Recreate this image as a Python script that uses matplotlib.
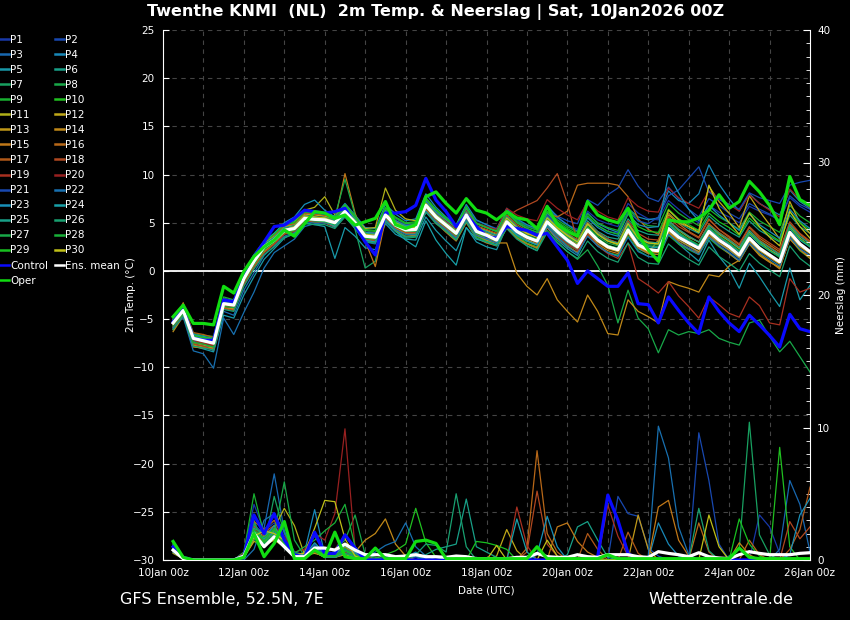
import numpy as np
import matplotlib
matplotlib.use('Agg')
import matplotlib.pyplot as plt
from matplotlib.lines import Line2D

# 6-hourly forecast steps, 10Jan 06z .. 26Jan 00z
steps = np.arange(1, 65)
hours = steps * 6

tick_hours = list(range(0, 385, 48))
tick_labels = ['10Jan 00z', '12Jan 00z', '14Jan 00z', '16Jan 00z', '18Jan 00z',
               '20Jan 00z', '22Jan 00z', '24Jan 00z', '26Jan 00z']

# --- 2m temperature (deg C) ---
ens_mean_t = [-5.4, -4.1, -7.0, -7.25, -7.5, -3.4, -3.55, -0.8, 1.0, 2.5, 3.2, 4.2, 4.4, 5.45, 5.35, 5.3,
              5.0, 6.15, 5.0, 3.6, 3.5, 5.8, 4.75, 4.25, 4.3, 6.8, 5.6, 4.75, 3.9, 5.8, 4.1, 3.7,
              3.2, 5.1, 4.1, 3.5, 3.1, 5.1, 4.1, 3.2, 2.5, 4.25, 3.2, 2.5, 2.2, 4.25, 2.7, 2.2,
              2.1, 4.4, 3.5, 2.9, 2.35, 4.1, 3.2, 2.5, 1.65, 3.4, 2.35, 1.65, 0.95, 4.0, 2.8, 2.0]
control_t = [-5.3, -3.9, -7.0, -7.2, -7.2, -3.0, -3.2, -0.5, 1.5, 3.0, 4.6, 4.75, 5.45, 6.3, 6.15, 6.0,
             6.15, 6.5, 4.75, 3.0, 1.65, 6.0, 6.0, 6.15, 6.8, 9.6, 7.35, 6.15, 4.6, 5.8, 4.6, 3.6,
             3.4, 4.6, 4.4, 4.2, 3.7, 3.9, 2.5, 1.1, -1.3, 0.0, -0.8, -1.6, -1.6, -0.2, -3.4, -3.5,
             -5.4, -2.7, -4.1, -5.4, -6.5, -2.7, -4.2, -5.4, -6.3, -4.6, -5.6, -6.7, -7.9, -4.5, -6.0, -6.3]
oper_t = [-4.75, -3.55, -5.45, -5.45, -5.6, -1.6, -2.3, -0.05, 1.5, 2.5, 3.2, 4.25, 3.6, 4.9, 6.15, 6.0,
          5.45, 5.8, 4.75, 5.1, 5.45, 7.2, 4.8, 4.4, 4.8, 7.7, 8.2, 7.0, 6.0, 7.5, 6.3, 6.0,
          5.3, 6.15, 5.5, 5.3, 4.4, 6.7, 4.8, 4.1, 3.6, 7.2, 5.8, 5.3, 5.0, 6.5, 3.7, 2.2,
          1.0, 5.3, 5.1, 5.1, 5.5, 6.3, 7.9, 6.5, 7.2, 9.3, 8.2, 6.8, 4.8, 9.8, 7.4, 6.8]

temp_members = [
    # P1
    [-5.8, -4.4, -7.6, -7.8, -8.0, -3.9, -3.8, -1.3, 0.6, 2.2, 3.4, 4.6, 5.0, 6.0, 5.9, 5.6,
     5.4, 6.7, 5.6, 4.2, 3.9, 6.5, 5.4, 4.8, 4.9, 7.4, 6.2, 5.5, 4.7, 6.6, 5.2, 4.8,
     4.4, 6.3, 5.3, 4.7, 4.4, 6.5, 5.5, 4.8, 4.3, 6.2, 5.3, 4.9, 4.6, 7.0, 6.0, 5.4,
     5.3, 7.3, 6.4, 5.6, 5.0, 6.8, 6.1, 5.6, 5.0, 6.7, 6.2, 5.8, 5.3, 7.6, 6.7, 6.1],
    # P2
    [-5.1, -3.8, -6.6, -6.9, -7.2, -3.0, -3.2, -0.3, 1.5, 3.0, 3.8, 4.4, 4.9, 5.8, 5.6, 5.5,
     5.1, 6.4, 5.2, 3.9, 3.9, 6.2, 5.0, 4.6, 4.5, 7.1, 5.9, 5.0, 4.4, 6.4, 4.9, 4.5,
     4.1, 6.2, 5.1, 4.6, 4.3, 6.6, 5.7, 5.2, 4.9, 7.4, 6.8, 7.9, 8.6, 10.5, 8.8, 7.6,
     7.2, 8.7, 7.5, 6.4, 5.6, 7.5, 6.8, 6.0, 5.4, 7.0, 6.4, 5.9, 5.2, 7.8, 6.9, 6.4],
    # P3
    [-5.6, -4.2, -7.3, -7.6, -8.3, -4.2, -4.6, -2.0, -0.2, 1.6, 2.6, 3.6, 4.0, 5.1, 5.0, 5.0,
     4.5, 5.7, 4.4, 3.0, 2.8, 5.1, 4.1, 3.5, 3.6, 6.1, 5.1, 4.3, 3.4, 5.3, 3.8, 3.2,
     3.0, 4.9, 3.9, 3.2, 2.8, 4.8, 3.6, 2.7, 2.2, 3.9, 3.0, 2.4, 2.0, 4.0, 2.9, 2.3,
     2.1, 4.2, 3.2, 2.5, 1.9, 3.6, 2.8, 2.1, 1.3, 3.0, 2.1, 1.5, 0.8, 3.6, 2.6, 1.9],
    # P4
    [-5.2, -3.9, -6.8, -7.0, -7.1, -3.1, -3.3, -0.6, 1.2, 2.8, 3.6, 4.8, 5.2, 6.3, 6.0, 5.9,
     5.7, 7.0, 5.8, 4.5, 4.4, 6.9, 5.9, 5.2, 5.4, 8.0, 6.6, 5.6, 4.8, 6.9, 5.3, 4.8,
     4.3, 6.5, 5.4, 4.8, 4.4, 6.8, 5.6, 4.8, 4.1, 6.0, 4.9, 4.4, 4.0, 6.5, 5.6, 5.3,
     5.5, 8.3, 7.3, 7.0, 8.0, 11.0, 9.0, 7.5, 6.2, 8.0, 7.0, 6.4, 5.8, 8.4, 7.2, 6.5],
    # P5
    [-6.0, -4.5, -7.8, -8.1, -8.4, -4.6, -4.9, -2.5, -0.6, 1.2, 2.3, 3.4, 3.9, 5.0, 4.8, 4.6,
     1.3, 4.5, 3.6, 2.4, 2.2, 4.9, 3.8, 3.3, 3.2, 5.6, 4.2, 3.1, 2.1, 4.5, 3.0, 2.5,
     2.2, 4.6, 3.5, 2.6, 2.1, 4.5, 3.2, 2.3, 1.6, 3.8, 2.6, 1.9, 1.6, 3.9, 2.3, 1.8,
     1.7, 4.0, 2.8, 1.9, 1.0, 3.2, 1.5, 0.2, -1.8, 0.8, -0.6, -2.2, -3.7, 0.3, -3.0, -1.5],
    # P6
    [-5.3, -4.0, -6.9, -7.1, -7.3, -3.2, -3.6, -0.9, 0.9, 2.3, 3.0, 4.0, 4.3, 5.3, 5.2, 5.1,
     4.8, 6.0, 4.7, 3.3, 3.1, 5.5, 4.5, 4.0, 4.1, 6.6, 5.3, 4.5, 3.7, 5.6, 4.0, 3.6,
     3.3, 5.4, 4.3, 3.7, 3.3, 5.6, 4.6, 3.8, 3.2, 5.2, 4.1, 3.5, 3.3, 5.4, 4.2, 3.8,
     3.7, 6.0, 5.0, 4.4, 3.9, 5.7, 4.8, 4.1, 3.5, 5.2, 4.2, 3.6, 3.0, 5.8, 4.6, 3.9],
    # P7
    [-5.5, -4.3, -7.2, -7.4, -7.6, -3.5, -3.4, -0.5, 1.3, 2.7, 3.4, 4.3, 4.5, 5.6, 5.5, 5.6,
     5.2, 6.8, 4.3, 0.3, 1.0, 5.6, 4.2, 3.4, 3.5, 6.2, 5.0, 4.1, 3.2, 5.4, 3.6, 3.1,
     2.9, 5.0, 3.9, 3.1, 2.8, 5.0, 3.8, 2.9, 2.3, 4.4, 3.3, 2.6, 2.4, 4.6, 3.2, 2.6,
     2.5, 4.9, 3.9, 3.2, 2.6, 4.5, 3.6, 2.8, 2.0, 3.9, 2.8, 2.1, 1.5, 4.6, 3.3, 2.5],
    # P8
    [-5.4, -4.1, -7.1, -7.3, -7.4, -3.3, -3.5, -0.7, 1.1, 2.6, 3.3, 4.1, 4.4, 5.4, 5.3, 5.4,
     5.0, 6.0, 4.9, 3.5, 3.4, 5.6, 4.6, 4.1, 4.2, 6.5, 5.4, 4.6, 3.7, 5.5, 3.9, 3.4,
     3.0, 4.8, 3.6, 2.8, 2.3, 4.2, 3.0, 2.0, 1.2, 2.2, 0.5, -1.5, -5.4, -2.0, -4.9, -6.0,
     -8.5, -6.1, -6.65, -6.3, -6.5, -6.1, -7.0, -7.4, -7.7, -5.4, -5.1, -6.8, -8.4, -7.3, -8.9, -10.5],
    # P9
    [-5.0, -3.6, -6.5, -6.7, -6.8, -2.7, -3.0, -0.2, 1.7, 3.1, 3.9, 4.9, 5.1, 6.2, 6.1, 6.0,
     5.6, 6.9, 5.7, 4.3, 4.2, 6.6, 5.6, 5.0, 5.1, 7.6, 6.4, 5.5, 4.6, 6.7, 5.0, 4.6,
     4.2, 6.2, 5.2, 4.6, 4.2, 6.2, 5.3, 4.6, 4.0, 5.9, 5.0, 4.5, 4.2, 6.6, 5.2, 4.7,
     4.6, 7.0, 6.0, 5.3, 4.7, 6.4, 5.6, 5.0, 4.3, 6.1, 5.2, 4.6, 4.0, 6.8, 5.7, 5.0],
    # P10
    [-5.7, -4.5, -7.5, -7.7, -7.9, -3.8, -3.9, -1.1, 0.7, 2.1, 2.9, 3.9, 4.2, 5.2, 5.1, 5.0,
     4.7, 5.8, 4.6, 3.2, 3.0, 5.4, 4.3, 3.8, 3.8, 6.3, 5.0, 4.2, 3.3, 5.2, 3.6, 3.1,
     2.7, 4.6, 3.6, 2.9, 2.5, 4.6, 3.5, 2.6, 1.9, 3.7, 2.6, 1.9, 1.6, 3.6, 2.1, 1.5,
     1.4, 3.7, 2.8, 2.2, 1.7, 3.4, 2.5, 1.8, 1.0, 2.8, 1.7, 1.0, 0.3, 3.4, 2.1, 1.3],
    # P11
    [-5.9, -4.3, -7.4, -7.7, -7.8, -3.6, -3.7, -1.0, 0.8, 2.4, 3.3, 4.5, 5.0, 6.3, 6.6, 7.7,
     5.8, 6.6, 5.5, 4.4, 4.5, 8.6, 6.3, 5.4, 5.2, 7.2, 6.0, 5.1, 4.2, 6.2, 4.6, 4.1,
     3.6, 5.5, 4.5, 3.9, 3.6, 5.6, 4.5, 3.6, 3.0, 4.8, 3.8, 3.1, 2.7, 4.9, 3.4, 2.9,
     2.8, 5.2, 4.2, 3.5, 3.0, 4.8, 3.8, 3.1, 2.3, 4.0, 3.0, 2.2, 1.6, 4.6, 3.4, 2.6],
    # P12
    [-5.2, -3.7, -6.7, -7.0, -7.1, -3.0, -3.2, -0.4, 1.4, 2.9, 3.6, 4.6, 4.8, 5.9, 5.8, 5.7,
     5.3, 6.4, 5.2, 3.9, 3.8, 6.2, 5.2, 4.6, 4.6, 7.1, 5.9, 5.1, 4.3, 6.2, 4.6, 4.2,
     3.8, 5.7, 4.6, 3.9, 3.5, 5.5, 4.4, 3.5, 2.8, 4.4, 3.3, 2.6, 2.2, 4.1, 2.6, 1.9,
     3.2, 5.8, 5.0, 4.6, 4.2, 8.8, 7.2, 6.0, 4.5, 7.8, 6.2, 4.8, 3.3, 7.2, 5.0, 3.9],
    # P13
    [-6.1, -4.6, -7.7, -7.9, -8.0, -3.8, -3.9, -1.2, 0.5, 2.0, 2.9, 4.0, 4.3, 5.4, 5.3, 5.2,
     4.6, 5.9, 4.8, 3.4, 3.3, 5.6, 4.5, 4.0, 4.0, 6.5, 5.3, 4.4, 3.6, 5.5, 3.8, 3.3,
     2.9, 4.9, 3.8, 3.2, 2.8, 4.9, 3.9, 3.0, 2.3, 4.1, 3.0, 2.3, 2.0, 4.0, 2.5, 2.0,
     1.9, 4.1, 3.2, 2.6, 2.0, 3.8, 2.9, 2.2, 1.4, 3.1, 2.1, 1.4, 0.7, 3.7, 2.5, 1.8],
    # P14
    [-6.3, -4.7, -7.9, -8.0, -8.1, -3.9, -4.0, -1.3, 0.4, 1.9, 2.8, 3.9, 4.2, 5.3, 5.2, 5.1,
     4.6, 5.8, 4.7, 3.3, 3.3, 5.4, 4.4, 3.9, 3.9, 6.4, 5.2, 4.3, 3.5, 5.3, 3.7, 3.2,
     2.9, 2.9, -0.25, -1.6, -2.5, -0.8, -3.0, -4.2, -5.3, -2.5, -4.2, -6.5, -6.65, -3.0, -4.2, -4.75,
     -5.4, -1.1, -1.5, -1.8, -2.2, -0.4, -0.6, 0.5, 1.1, 2.8, 1.6, 0.9, 0.4, 3.3, 2.2, 1.5],
    # P15
    [-5.6, -3.3, -6.9, -7.3, -7.5, -3.5, -3.7, -1.0, 0.9, 2.4, 3.1, 4.1, 4.4, 5.5, 5.4, 5.4,
     5.2, 10.1, 6.0, 3.1, 0.45, 5.3, 4.2, 3.6, 3.7, 6.2, 5.0, 4.0, 3.1, 5.0, 3.4, 2.9,
     2.6, 4.5, 3.4, 2.8, 2.4, 4.5, 3.4, 2.5, 1.9, 3.9, 2.8, 2.1, 1.8, 3.9, 2.4, 1.8,
     1.7, 4.0, 3.0, 2.3, 1.8, 3.6, 2.6, 1.8, 1.0, 2.9, 1.8, 1.0, 0.2, 3.4, 2.2, 1.3],
    # P16
    [-5.5, -4.0, -7.0, -7.3, -7.6, -3.5, -3.6, -0.9, 1.0, 2.5, 3.2, 4.2, 4.5, 5.5, 5.4, 5.3,
     4.9, 6.1, 4.9, 3.5, 3.4, 5.7, 4.7, 4.2, 4.2, 6.7, 5.5, 4.7, 3.8, 5.7, 4.0, 3.6,
     3.1, 5.0, 4.2, 3.8, 3.7, 6.0, 5.6, 6.2, 8.9, 9.1, 9.1, 9.1, 8.9, 7.7, 5.4, 4.3,
     3.8, 6.0, 4.9, 4.1, 3.5, 5.4, 4.3, 3.5, 2.7, 4.5, 3.4, 2.7, 2.0, 4.9, 3.8, 3.0],
    # P17
    [-5.0, -3.5, -6.4, -6.6, -6.9, -2.9, -3.1, -0.3, 1.6, 3.1, 3.7, 4.7, 4.9, 6.0, 5.9, 5.8,
     5.4, 6.6, 5.4, 4.0, 3.9, 6.3, 5.2, 4.7, 4.8, 7.3, 6.1, 5.2, 4.4, 6.3, 4.7, 4.3,
     3.9, 5.8, 4.8, 4.2, 3.8, 5.8, 4.8, 3.9, 3.2, 5.0, 3.9, 3.3, 2.9, 5.0, 3.6, 3.0,
     2.9, 5.3, 4.3, 3.6, 3.0, 4.9, 4.0, 3.3, 2.5, 4.2, 3.2, 2.5, 1.8, 4.8, 3.6, 2.9],
    # P18
    [-5.8, -4.6, -7.6, -7.8, -8.2, -3.9, -4.1, -1.4, 0.4, 1.9, 2.8, 3.8, 4.1, 5.2, 5.1, 5.0,
     4.6, 5.9, 4.7, 3.3, 3.1, 5.5, 4.5, 4.0, 4.0, 6.5, 5.3, 4.5, 3.6, 5.6, 3.9, 3.5,
     3.0, 5.6, 6.3, 6.8, 7.3, 8.6, 10.1, 7.0, 3.0, 5.0, 4.0, 3.3, 2.9, 5.2, 3.9, 3.3,
     3.2, 5.6, 4.6, 4.0, 3.4, 5.3, 4.3, 3.6, 2.8, 4.6, 3.6, 2.9, 2.2, 5.1, 3.9, 3.1],
    # P19
    [-5.4, -4.2, -7.2, -7.5, -7.7, -3.6, -3.7, -0.9, 0.9, 2.4, 3.1, 4.1, 4.3, 5.4, 5.3, 5.2,
     4.9, 6.2, 5.0, 3.6, 3.5, 5.8, 4.7, 4.2, 4.3, 6.8, 5.6, 4.7, 3.9, 5.8, 4.1, 3.7,
     3.3, 5.2, 4.1, 3.4, 2.9, 4.8, 3.7, 2.8, 2.1, 3.8, 2.6, 1.8, 1.3, 2.9, -0.8, -1.5,
     -2.3, -1.1, -2.6, -3.7, -4.9, -2.7, -3.5, -4.4, -4.8, -2.7, -3.6, -5.4, -5.6, -0.8, -2.2, -1.8],
    # P20
    [-5.6, -4.3, -7.4, -7.6, -7.8, -3.7, -3.8, -1.1, 0.8, 2.3, 3.0, 4.0, 4.3, 5.3, 5.2, 5.2,
     5.0, 6.3, 5.1, 3.7, 3.6, 6.0, 5.0, 4.5, 4.6, 7.1, 6.0, 5.2, 4.4, 6.4, 4.9, 4.6,
     4.3, 6.5, 5.8, 5.4, 5.2, 7.4, 6.5, 5.8, 5.3, 7.2, 6.2, 5.6, 5.3, 7.6, 6.7, 6.2,
     6.1, 8.6, 7.6, 7.0, 6.5, 8.3, 7.5, 6.9, 6.2, 7.9, 7.0, 6.3, 5.6, 8.5, 7.4, 6.6],
    # P21
    [-5.3, -3.9, -6.8, -7.1, -7.3, -3.2, -3.3, -0.6, 1.2, 2.7, 3.4, 4.4, 4.6, 5.7, 5.5, 5.4,
     5.2, 6.4, 5.2, 3.8, 3.7, 6.1, 5.0, 4.5, 4.5, 7.0, 5.8, 4.9, 4.1, 6.1, 4.4, 4.0,
     3.6, 5.6, 4.6, 4.0, 3.7, 5.8, 4.8, 4.1, 3.6, 5.6, 4.7, 4.1, 3.9, 6.2, 5.2, 4.9,
     5.6, 7.8, 8.4, 9.6, 10.8, 8.2, 7.4, 6.9, 6.4, 8.1, 7.6, 7.3, 7.0, 8.9, 9.2, 9.4],
    # P22
    [-5.9, -4.8, -8.3, -8.6, -10.1, -4.9, -6.6, -4.3, -2.2, 0.3, 1.9, 2.6, 3.3, 4.6, 4.9, 5.0,
     4.8, 5.6, 4.5, 3.1, 3.0, 5.3, 4.3, 3.8, 3.8, 6.2, 5.1, 4.3, 3.4, 5.3, 3.7, 3.3,
     2.9, 4.9, 3.8, 3.1, 2.7, 4.6, 3.5, 2.5, 1.8, 3.6, 2.6, 1.9, 1.5, 3.5, 2.0, 1.5,
     1.4, 3.8, 2.9, 2.3, 1.7, 3.5, 2.6, 1.9, 1.1, 2.9, 1.9, 1.2, 0.5, 3.5, 2.3, 1.6],
    # P23
    [-5.0, -3.7, -6.6, -6.8, -7.0, -2.9, -3.1, -0.4, 1.5, 3.0, 3.9, 5.0, 5.6, 6.9, 7.35, 6.3,
     5.6, 6.7, 5.4, 4.0, 3.9, 6.3, 5.2, 4.7, 4.8, 7.3, 6.1, 5.3, 4.5, 6.5, 4.9, 4.5,
     4.1, 6.1, 5.0, 4.4, 4.0, 6.0, 5.0, 4.2, 3.6, 5.5, 4.5, 3.9, 3.6, 5.9, 4.8, 4.5,
     4.6, 10.0, 8.1, 6.4, 5.2, 6.8, 5.8, 5.0, 4.2, 5.9, 4.8, 4.1, 3.4, 6.4, 5.2, 4.4],
    # P24
    [-5.4, -4.1, -7.0, -7.2, -7.4, -3.4, -3.6, -0.9, 0.9, 2.4, 3.1, 4.1, 4.3, 5.3, 5.2, 5.2,
     4.6, 5.8, 4.6, 3.2, 3.0, 5.2, 4.1, 3.2, 2.5, 5.2, 3.2, 1.8, 0.6, 4.5, 3.3, 3.0,
     2.7, 4.7, 3.7, 3.1, 2.7, 4.8, 3.8, 3.0, 2.4, 4.3, 3.2, 2.6, 2.3, 4.4, 3.0, 2.5,
     2.4, 4.8, 3.8, 3.1, 2.6, 4.4, 3.5, 2.8, 2.0, 3.8, 2.8, 2.1, 1.5, 4.4, 3.2, 2.5],
    # P25
    [-5.2, -3.9, -6.8, -7.0, -7.2, -3.1, -3.3, -0.5, 1.3, 2.8, 3.5, 4.5, 4.7, 5.7, 5.6, 5.5,
     5.3, 6.5, 5.3, 3.9, 3.8, 6.1, 5.1, 4.6, 4.6, 7.1, 5.9, 5.0, 4.2, 6.1, 4.5, 4.1,
     3.7, 5.6, 4.6, 4.0, 3.6, 5.6, 4.6, 3.8, 3.1, 4.9, 3.9, 3.2, 2.9, 5.0, 3.5, 3.0,
     2.9, 5.2, 4.3, 3.6, 3.0, 4.7, 3.9, 3.2, 2.4, 4.2, 3.1, 2.4, 1.7, 4.8, 3.6, 2.8],
    # P26
    [-6.1, -4.6, -7.8, -8.0, -8.2, -4.0, -4.2, -1.6, 0.2, 1.7, 2.5, 3.5, 3.8, 4.9, 4.8, 4.8,
     4.4, 5.6, 4.4, 3.0, 2.9, 5.2, 4.1, 3.6, 3.6, 6.1, 4.9, 4.1, 3.2, 5.1, 3.4, 3.0,
     2.6, 4.4, 3.3, 2.6, 2.1, 4.0, 2.9, 2.0, 1.3, 3.1, 2.0, 1.3, 0.9, 2.9, 1.4, 0.8,
     0.7, 2.8, 1.9, 1.2, 0.6, 2.5, 1.5, 0.8, 0.0, 1.8, 0.8, 0.1, -0.6, 2.6, 1.3, 0.5],
    # P27
    [-5.3, -4.0, -6.9, -7.2, -7.4, -3.3, -3.5, -0.7, 1.1, 2.6, 3.3, 4.3, 4.5, 5.6, 5.5, 5.4,
     5.6, 9.5, 5.8, 3.9, 3.4, 5.9, 4.9, 4.4, 4.4, 6.9, 5.7, 4.9, 4.0, 6.0, 4.3, 3.9,
     3.5, 5.4, 4.3, 3.7, 3.3, 5.4, 4.3, 3.5, 2.9, 4.6, 3.6, 2.9, 2.6, 4.7, 3.3, 2.7,
     2.7, 5.0, 4.0, 3.3, 2.7, 4.5, 3.6, 2.9, 2.1, 3.9, 2.9, 2.1, 1.4, 4.5, 3.3, 2.6],
    # P28
    [-5.7, -4.4, -7.4, -7.6, -7.9, -3.7, -3.8, -1.1, 0.7, 2.2, 3.0, 4.0, 4.2, 5.3, 5.2, 5.1,
     4.8, 6.0, 4.8, 3.4, 3.3, 5.6, 4.6, 4.1, 4.1, 6.6, 5.4, 4.6, 3.7, 5.6, 3.9, 3.5,
     3.1, 5.1, 4.0, 3.4, 3.0, 5.1, 4.1, 3.3, 2.6, 4.5, 3.4, 2.7, 2.3, 4.4, 2.9, 2.3,
     2.2, 4.5, 3.5, 2.9, 2.3, 4.1, 3.2, 2.5, 1.7, 3.5, 2.5, 1.7, 1.0, 4.1, 2.8, 2.0],
    # P29
    [-5.1, -3.8, -6.7, -6.9, -7.0, -2.9, -3.1, -0.3, 1.6, 3.0, 3.8, 4.8, 5.0, 6.1, 6.0, 5.9,
     5.5, 6.8, 5.6, 4.2, 4.1, 6.5, 5.5, 4.9, 5.0, 7.5, 6.3, 5.4, 4.6, 6.6, 4.9, 4.5,
     4.1, 6.0, 5.0, 4.4, 4.0, 6.1, 5.1, 4.4, 3.8, 5.7, 4.7, 4.1, 3.8, 6.0, 4.6, 4.1,
     4.0, 6.4, 5.4, 4.8, 4.2, 6.0, 5.1, 4.5, 3.7, 5.5, 4.5, 3.8, 3.1, 6.1, 5.0, 4.2],
    # P30
    [-5.5, -4.1, -7.1, -7.3, -7.5, -3.4, -3.5, -0.7, 1.1, 2.6, 3.3, 4.3, 4.6, 5.7, 5.6, 5.5,
     5.1, 6.3, 5.2, 3.8, 3.7, 6.0, 5.0, 4.5, 4.5, 7.0, 5.8, 4.9, 4.1, 6.0, 4.3, 3.9,
     3.5, 5.5, 4.5, 3.9, 3.5, 5.5, 4.5, 3.7, 3.0, 4.9, 3.8, 3.1, 2.8, 4.9, 3.4, 2.9,
     2.8, 6.3, 5.3, 4.6, 4.0, 8.9, 6.5, 5.0, 3.8, 6.0, 4.6, 3.5, 2.6, 6.2, 4.6, 3.4],
]

# --- precipitation (mm per 6h) ---
ens_mean_p = [0.75, 0.1, 0, 0, 0, 0, 0, 0.3, 2.0, 1.0, 1.75, 1.0, 0.25, 0.25, 0.9, 0.9,
              0.75, 1.2, 0.75, 0.4, 0.4, 0.4, 0.25, 0.3, 0.4, 0.25, 0.25, 0.2, 0.3, 0.25, 0.1, 0.1,
              0.1, 0.1, 0.2, 0.2, 0.5, 0.25, 0.2, 0.2, 0.4, 0.25, 0.2, 0.4, 0.4, 0.4, 0.25, 0.2,
              0.63, 0.5, 0.4, 0.25, 0.55, 0.25, 0.15, 0.1, 0.4, 0.63, 0.5, 0.4, 0.4, 0.4, 0.5, 0.55]
control_p = [1.0, 0.2, 0, 0, 0, 0, 0, 0.3, 3.4, 2.0, 3.5, 1.5, 0.4, 0.2, 2.1, 0.5,
             0.5, 1.9, 0.9, 0, 0, 0, 0, 0, 0, 0, 0, 0, 0, 0, 0, 0,
             0, 0, 0, 0, 0, 0, 0, 0, 0, 0, 0.25, 4.9, 3.0, 0.5, 0, 0,
             0, 0, 0, 0, 0, 0, 0, 0, 0, 0, 0, 0, 0, 0, 0, 0]
oper_p = [1.4, 0.2, 0, 0, 0, 0, 0, 0.2, 2.0, 0.25, 1.25, 2.9, 0.1, 0.1, 0.75, 0.25,
          2.1, 0.25, 0.1, 0.1, 0.9, 0.1, 0.1, 0.1, 1.4, 1.5, 1.25, 0.1, 0.1, 0.1, 0.1, 0.1,
          0.1, 0.1, 0.1, 0.1, 1.0, 0.1, 0.1, 0.1, 0.1, 0.1, 0.1, 0.4, 0.1, 0.1, 0.1, 0.1,
          0.1, 0.1, 0.1, 0.1, 0.1, 0.1, 0.1, 0.1, 0.9, 0.2, 0.1, 0.1, 0.1, 0.1, 0.1, 0.1]

precip_members = [
    # P1
    [0.9, 0.1, 0, 0, 0, 0, 0, 0.6, 4.2, 2.2, 2.8, 1.1, 0.2, 0.5, 1.8, 0.5,
     0.3, 1.0, 0.5, 0.2, 0, 0.3, 0, 0, 0.2, 0.1, 0, 0, 0, 0, 0, 0,
     0, 0, 0, 0, 0, 0, 0, 0, 0, 0, 0, 0, 0, 0, 0, 0,
     0, 0, 0, 0, 0, 0, 0, 0, 0, 0, 3.4, 2.5, 0.5, 0, 0, 0],
    # P2
    [1.1, 0.2, 0, 0, 0, 0, 0, 0.3, 2.8, 1.6, 1.9, 1.4, 0.3, 0.2, 0.9, 0.4,
     0.2, 0.6, 0.3, 0, 0, 0, 0, 0, 0, 0, 0, 0, 0, 0, 0, 0,
     0, 0, 0, 0, 0, 0, 0, 0, 0, 0, 0, 0, 4.8, 3.5, 3.3, 0.9,
     0.3, 0, 0, 0, 0, 0, 0, 0, 0, 0, 0, 0, 0, 0, 0, 0],
    # P3
    [0.7, 0.1, 0, 0, 0, 0, 0, 0.2, 2.1, 2.4, 6.5, 2.2, 0.4, 0.3, 1.1, 0.2,
     0.2, 0.7, 0.2, 0, 0, 0, 0, 0, 0, 0, 0, 0, 0, 0, 0, 0,
     0, 0, 0, 0, 0, 0, 0, 0, 0, 0, 0, 0, 0, 0, 0, 0,
     0, 0, 0, 0, 0, 0, 0, 0, 0, 0, 0, 0, 0.8, 6.0, 4.2, 0.6],
    # P4
    [0.8, 0.1, 0, 0, 0, 0, 0, 0.4, 1.9, 1.2, 2.4, 1.0, 0.3, 0.6, 3.8, 0.4,
     0.5, 0.8, 0.2, 0.3, 0.1, 0, 0.3, 0.2, 0.6, 0, 0, 0, 0, 0, 0, 0,
     0, 0, 0, 0, 0, 0, 0, 0, 0, 0, 0, 0, 0, 0, 0, 0,
     2.8, 1.2, 0.3, 0, 0, 0, 0, 0, 0, 0, 0, 0, 0, 0, 0, 0],
    # P5
    [1.0, 0.2, 0, 0, 0, 0, 0, 0.2, 1.5, 1.8, 2.0, 1.3, 0.2, 0.2, 0.7, 0.3,
     0.4, 1.2, 0.6, 0.1, 0, 0, 0, 0, 0.3, 0, 0, 0, 0, 0, 0.2, 0,
     0, 0, 0, 0, 0, 0, 0, 0, 0, 0, 0, 0, 0, 0, 0, 0,
     0, 0, 0, 0, 0, 0, 0, 0, 0, 0, 0, 0, 0, 0, 0, 0],
    # P6
    [0.6, 0.1, 0, 0, 0, 0, 0, 0.3, 2.4, 1.4, 1.7, 0.9, 0.2, 0.3, 0.9, 0.5,
     0.3, 0.8, 0.4, 0.2, 0, 0, 0, 0, 0, 0, 0, 0, 0, 0, 0, 0,
     0, 0, 0, 0, 0, 0, 0, 0.4, 2.5, 2.9, 1.5, 0.2, 0, 0, 0, 0,
     0, 0, 0, 0, 0, 0, 0, 0, 0, 0, 0, 0, 0, 0, 0, 0],
    # P7
    [1.2, 0.2, 0, 0, 0, 0, 0, 0.5, 3.0, 1.0, 4.8, 2.0, 0.5, 0.3, 0.8, 0.3,
     0.2, 0.5, 0.3, 0, 0, 0, 0, 0, 0, 0, 0, 0, 0, 0, 0, 0,
     0, 0, 0, 0, 0, 0, 0, 0, 0, 0, 0, 0, 0, 0, 0, 0,
     0, 0, 0, 0, 0, 0, 0, 0.3, 0.8, 10.4, 1.9, 0.4, 0, 0, 0, 0],
    # P8
    [0.9, 0.1, 0, 0, 0, 0, 0, 0.2, 2.3, 1.5, 2.2, 1.6, 0.4, 0.4, 1.0, 0.6,
     0.8, 1.5, 3.4, 0.4, 0.2, 0, 0, 0, 0, 0, 0, 0, 0, 0, 0, 0,
     0, 0, 0, 0, 0, 0, 0, 0, 0, 0, 0, 0, 0, 0, 0, 0,
     0, 0, 0, 0, 0, 0, 0, 0, 0, 0, 0, 0, 0, 0, 0, 0],
    # P9
    [1.3, 0.2, 0, 0, 0, 0, 0, 0.6, 5.0, 1.9, 2.1, 1.0, 0.3, 0.2, 0.6, 0.2,
     0.2, 0.6, 0.2, 0, 0, 0, 0, 0, 0, 0, 0, 0, 0, 0, 0, 0,
     0, 0, 0, 0, 0, 0, 0, 0, 0, 0, 0, 0, 0, 0, 0, 0,
     0, 0, 0, 0, 0, 0, 0, 0, 0, 0, 0, 0, 0, 0, 0, 0],
    # P10
    [0.8, 0.1, 0, 0, 0, 0, 0, 0.3, 1.8, 1.3, 1.6, 1.2, 0.2, 0.5, 0.8, 0.5,
     0.6, 1.1, 0.5, 0.2, 0.1, 0.4, 0.7, 1.2, 3.9, 1.3, 0.2, 0, 0, 0, 0, 0,
     0, 0, 0, 0, 0, 0, 0, 0, 0, 0, 0, 0, 0, 0, 0, 0,
     0, 0, 0, 0, 0, 0, 0, 0, 0, 0, 0, 0, 8.5, 1.0, 0, 0],
    # P11
    [0.5, 0.1, 0, 0, 0, 0, 0, 0.2, 1.6, 2.0, 2.4, 3.9, 2.6, 0.4, 0.5, 0.3,
     0.3, 0.9, 0.3, 0, 0, 0, 0, 0, 0, 0, 0, 0, 0, 0, 0, 0,
     0, 0, 0, 0, 0, 0, 0, 0, 0, 0, 0, 0, 0, 0, 0, 0,
     0, 0, 0, 0, 0, 0, 0, 0, 0, 0, 0, 0, 0, 0, 0, 0],
    # P12
    [0.7, 0.1, 0, 0, 0, 0, 0, 0.2, 1.4, 1.1, 1.5, 1.0, 0.3, 0.3, 0.6, 0.2,
     0.2, 0.4, 0.2, 0, 0, 0, 0, 0, 0, 0, 0, 0, 0, 0, 0, 0,
     0.3, 2.3, 0.7, 0, 0, 0, 0, 0, 0, 0, 0, 0, 0, 0, 0, 0,
     0, 0, 0, 0, 0, 0, 0, 0, 0, 0, 0, 0, 0, 0, 0, 0],
    # P13
    [0.6, 0.1, 0, 0, 0, 0, 0, 0.4, 2.0, 1.7, 2.3, 1.4, 0.4, 0.3, 0.8, 0.4,
     0.5, 1.0, 0.5, 0.3, 0, 0, 0, 0, 0, 0, 0, 0, 0, 0, 0, 0,
     0, 0, 0, 0, 0, 0, 0, 0, 0, 0, 0, 0, 0, 0, 3.4, 0.8,
     0, 0, 0, 0, 0, 0, 0, 0, 0, 0, 0, 0, 0, 0, 0, 0],
    # P14
    [0.9, 0.2, 0, 0, 0, 0, 0, 0.3, 2.2, 1.4, 2.0, 1.3, 0.3, 0.4, 0.9, 0.3,
     0.3, 0.8, 0.6, 1.5, 2.0, 3.1, 1.2, 0.3, 0, 0, 0, 0, 0, 0, 0, 0,
     0, 0, 0, 0, 0, 0, 0, 0, 0, 0, 0, 0, 0, 0, 0, 0,
     0, 0, 0, 0, 0, 0, 0, 0, 1.3, 0.4, 0, 0, 0, 0, 0, 0],
    # P15
    [1.0, 0.1, 0, 0, 0, 0, 0, 0.4, 2.6, 1.8, 2.2, 1.1, 0.2, 0.2, 0.6, 0.2,
     0.2, 0.7, 0.3, 0, 0, 0, 0, 0, 0, 0, 0, 0, 0, 0, 0, 0,
     0, 0, 0, 0, 0, 0, 2.5, 2.8, 1.4, 0.6, 0.2, 0, 0, 0, 0, 0,
     4.0, 4.5, 1.5, 0.3, 0, 0, 0, 0, 0, 0, 0, 0, 0, 0, 0, 0],
    # P16
    [0.8, 0.1, 0, 0, 0, 0, 0, 0.5, 2.9, 2.3, 3.0, 1.5, 0.3, 0.3, 0.7, 0.3,
     0.3, 0.9, 0.4, 0, 0, 0, 0, 0, 0, 0, 0, 0, 0, 0, 0, 0,
     0, 0, 0, 0.9, 8.25, 2.0, 0.6, 0, 0, 0, 0, 0, 0, 0, 0, 0,
     0, 0, 0, 0, 2.8, 0.6, 0, 0, 0, 1.5, 0.4, 0, 0, 0, 0, 0],
    # P17
    [0.7, 0.1, 0, 0, 0, 0, 0, 0.3, 2.0, 1.6, 1.8, 1.2, 0.3, 0.3, 0.9, 0.4,
     0.4, 0.8, 0.4, 0, 0, 0, 0, 0, 0, 0, 0, 0, 0, 0, 0, 0,
     0, 0, 0, 0, 0, 0, 0, 0, 0, 2.0, 0.8, 0, 0, 2.1, 0.5, 0,
     0, 0, 0, 0, 0, 0, 0, 0, 0, 0, 0, 0, 0, 0.8, 2.3, 5.5],
    # P18
    [1.1, 0.2, 0, 0, 0, 0, 0, 0.4, 2.5, 2.1, 2.6, 1.3, 0.3, 0.5, 0.8, 0.6,
     0.8, 1.9, 0.7, 0.2, 0, 0, 0, 0, 0, 0, 0, 0, 0, 0, 0, 0,
     0, 0, 0, 0.6, 5.2, 1.2, 0.3, 0, 0, 0, 0, 0, 0, 0, 0, 0,
     0, 0, 0, 0, 0, 0, 0, 0, 0, 0, 0, 0, 0, 2.9, 1.6, 2.5],
    # P19
    [0.9, 0.1, 0, 0, 0, 0, 0, 0.2, 1.7, 1.5, 2.3, 1.0, 0.2, 0.3, 0.6, 0.3,
     0.3, 0.6, 0.4, 0, 0, 0, 0, 0, 0, 0, 0, 0, 0, 0, 0, 0,
     0, 0, 4.0, 1.1, 0, 0, 0, 0, 0, 0, 0, 4.15, 1.8, 0.3, 0, 0,
     0, 0, 0, 0, 0, 0, 0, 0, 0, 0, 0, 0, 0, 0, 0, 0],
    # P20
    [0.8, 0.1, 0, 0, 0, 0, 0, 0.5, 2.3, 1.9, 2.5, 1.8, 0.6, 0.8, 2.0, 1.5,
     3.5, 9.9, 0.8, 0.3, 0, 0, 0, 0, 0, 0, 0, 0, 0, 0, 0, 0,
     0, 0, 0, 0, 0, 0, 0, 0, 0, 0, 0, 0, 0, 0, 0, 0,
     0, 0, 0, 0, 0, 0, 0, 0, 0, 0, 0, 0, 0, 0, 0, 0],
    # P21
    [1.0, 0.2, 0, 0, 0, 0, 0, 0.4, 2.7, 1.9, 2.4, 1.5, 0.3, 0.4, 1.2, 0.4,
     0.3, 0.7, 0.3, 0, 0, 0, 0, 0, 0, 0, 0, 0, 0, 0, 0, 0,
     0, 0, 0, 0, 0, 0, 0, 0, 0, 0, 0, 0, 0, 0, 0, 0,
     0, 0, 0, 0, 9.6, 6.0, 1.2, 0, 0, 0, 0, 0, 0, 0, 0, 0],
    # P22
    [0.6, 0.1, 0, 0, 0, 0, 0, 0, 0.8, 3.0, 3.5, 2.1, 0.6, 0.4, 0.8, 0.6,
     0.5, 0.8, 0.5, 0.2, 0.6, 1.1, 1.4, 2.8, 1.0, 0.3, 0, 0, 0, 0, 0, 0,
     0, 0, 0, 0, 0, 0, 0, 0, 0, 0, 0, 0, 0, 0, 0, 0.3,
     10.1, 7.7, 2.5, 0.4, 0, 0, 0, 0, 0, 0, 0, 0, 0, 0, 0, 0],
    # P23
    [0.9, 0.1, 0, 0, 0, 0, 0, 0.3, 2.2, 1.6, 2.1, 1.4, 0.3, 0.3, 0.9, 0.3,
     0.3, 0.7, 0.4, 0, 0, 0, 0, 0, 0, 0, 0, 0, 0, 0, 0, 0,
     0, 0, 0, 0, 0.4, 3.3, 1.0, 0, 0, 0, 0, 0, 0, 0, 0, 0,
     0, 0, 0, 0, 0, 0, 0, 0, 0, 0, 0, 0, 0, 0.4, 3.4, 4.65],
    # P24
    [0.7, 0.1, 0, 0, 0, 0, 0, 0.3, 1.9, 1.7, 2.6, 1.2, 0.3, 0.4, 1.3, 0.5,
     0.4, 1.1, 0.6, 0.2, 0, 0, 0, 0, 0, 0, 0, 0, 0, 0, 0, 0,
     0, 0, 3.1, 0.6, 0, 0, 0, 0, 0, 0, 0, 0, 0, 0, 0, 0,
     0, 0, 0, 0, 0, 0, 0, 0, 0, 0, 0, 0, 0, 0, 0, 0],
    # P25
    [1.2, 0.2, 0, 0, 0, 0, 0, 0.4, 2.4, 2.0, 2.2, 1.3, 0.3, 0.3, 0.9, 0.3,
     0.2, 0.7, 0.3, 0.1, 0, 0, 0, 0, 0, 0.4, 0.8, 1.0, 1.2, 4.6, 1.0, 0.6,
     0.2, 0, 0, 0, 0, 0, 0, 0, 0, 0, 0, 0, 0, 0, 0, 0,
     0, 0, 0, 0, 0, 0, 0, 0, 0, 0, 0, 0, 0, 0, 0, 0],
    # P26
    [0.8, 0.1, 0, 0, 0, 0, 0, 0.3, 2.1, 1.5, 1.9, 1.1, 0.2, 0.2, 0.7, 0.2,
     0.2, 0.5, 0.2, 0, 0, 0, 0, 0, 0.4, 1.2, 1.1, 0.6, 5.0, 1.0, 0, 0,
     0, 0, 0, 0, 0, 0, 0, 0, 0, 0, 0, 0, 0, 0, 0, 0,
     0, 0, 0, 0, 3.9, 0.7, 0, 0, 0, 0, 0, 0, 0, 0, 0, 0],
    # P27
    [1.0, 0.1, 0, 0, 0, 0, 0, 0.4, 2.8, 1.3, 2.0, 5.9, 1.5, 0.3, 0.8, 0.4,
     0.3, 0.9, 0.3, 0, 0, 0, 0, 0, 0, 0, 0, 0, 0, 0, 0, 0,
     0, 0, 0, 0, 0, 0, 0, 0, 0, 0, 0, 0, 0, 0, 0, 0,
     0, 0, 0, 0, 0, 0, 0, 0, 0, 0, 0, 0, 0, 0, 0, 0],
    # P28
    [0.9, 0.2, 0, 0, 0, 0, 0, 0.2, 2.0, 1.7, 2.3, 1.6, 0.5, 1.0, 1.5, 2.2,
     2.8, 4.2, 1.0, 0.2, 0, 0, 0, 0, 0, 0, 0, 0, 0, 0, 0, 0,
     0, 0, 0, 0, 0, 0, 0, 0, 0, 0, 0, 0, 0, 0, 0, 0,
     0, 0, 0, 0, 0, 0, 0, 0, 0, 0, 0, 0, 0, 0, 0, 0],
    # P29
    [0.8, 0.1, 0, 0, 0, 0, 0, 0.3, 2.3, 1.4, 2.4, 1.2, 0.3, 0.3, 0.8, 0.3,
     0.3, 0.7, 0.4, 0, 0, 0, 0, 0, 0, 0, 0, 0, 0, 0, 1.4, 1.3,
     1.1, 0.8, 0, 0, 0, 0, 0, 0, 0, 0, 0, 0, 0, 0, 0, 0,
     0, 0, 0, 0, 0, 0, 0, 0, 3.1, 1.2, 0.3, 0, 0, 0, 0, 0],
    # P30
    [0.7, 0.1, 0, 0, 0, 0, 0, 0.3, 1.8, 2.2, 2.0, 1.5, 0.4, 0.5, 2.4, 4.5,
     4.4, 1.6, 0.3, 0, 0, 0, 0, 0, 0, 0, 0, 0, 0, 0, 0, 0,
     1.1, 0, 0, 0, 0, 1.5, 0.3, 0, 0, 0, 0, 0, 0, 0, 0, 0,
     0, 0, 0, 0, 0, 3.4, 1.0, 0, 0, 0, 0, 0, 0, 0, 0, 0],
]

member_names = ['P%d' % k for k in range(1, 31)]
member_colors = ['#1838a8', '#1848b0', '#1868b0', '#1888b8', '#1898a8', '#18a088',
                 '#18a060', '#18a848', '#18b030', '#20c020', '#b0b018', '#c0a818',
                 '#c09818', '#c08818', '#c07818', '#b86818', '#b05818', '#b04820',
                 '#a83020', '#982020', '#1848b0', '#1870b0', '#1890b8', '#18a0a8',
                 '#18a088', '#18a070', '#18a848', '#18b038', '#18c020', '#c0c018']
control_color = '#0a0aff'
oper_color = '#11dd11'
mean_color = '#ffffff'

for s in temp_members + precip_members + [ens_mean_t, control_t, oper_t, ens_mean_p, control_p, oper_p]:
    assert len(s) == len(steps), len(s)

fig = plt.figure(figsize=(8.5, 6.2), dpi=100, facecolor='black')
ax = fig.add_axes([163 / 850, 60 / 620, 647 / 850, 530 / 620])
ax.set_facecolor('black')

# temperature lines
for vals, col in zip(temp_members, member_colors):
    ax.plot(hours, vals, color=col, lw=0.9, zorder=2)
ax.axhline(0, color='white', lw=1.3, zorder=1.8)
ax.plot(hours, control_t, color=control_color, lw=2.3, zorder=3)
ax.plot(hours, ens_mean_t, color=mean_color, lw=2.3, zorder=3.1)
ax.plot(hours, oper_t, color=oper_color, lw=2.3, zorder=3.2)

ax.set_xlim(0, 384)
ax.set_ylim(-30, 25)
ax.set_yticks(range(-30, 26, 5))
ax.set_xticks(tick_hours)
ax.set_xticklabels(tick_labels)
ax.set_xticks(range(0, 385, 24), minor=True)
ax.grid(True, which='both', axis='x', color='#444444', ls=(0, (4, 4)), lw=0.8, zorder=1)
ax.grid(True, which='major', axis='y', color='#444444', ls=(0, (4, 4)), lw=0.8, zorder=1)
ax.tick_params(axis='both', which='both', colors='white', direction='in', labelsize=7.5)
ax.tick_params(axis='x', which='minor', length=0)
ax.tick_params(axis='y', length=4, pad=6)
ax.tick_params(axis='x', length=0, pad=6)
for side in ['left', 'bottom']:
    ax.spines[side].set_color('white')
ax.spines['top'].set_visible(False)
ax.spines['right'].set_visible(False)
ax.set_ylabel('2m Temp. (°C)', color='white', fontsize=7.5)
ax.yaxis.set_label_coords(-0.041, 0.5)
ax.set_xlabel('Date (UTC)', color='white', fontsize=7.5, labelpad=5)

# precipitation lines on second axis
ax2 = ax.twinx()
for vals, col in zip(precip_members, member_colors):
    ax2.plot(hours, vals, color=col, lw=0.9, zorder=2)
ax2.plot(hours, control_p, color=control_color, lw=2.3, zorder=3)
ax2.plot(hours, ens_mean_p, color=mean_color, lw=2.3, zorder=3.1)
ax2.plot(hours, oper_p, color=oper_color, lw=2.3, zorder=3.2)
ax2.set_ylim(0, 40)
ax2.set_yticks(range(0, 41, 10))
ax2.set_yticks(range(0, 41, 1), minor=True)
ax2.tick_params(axis='y', which='both', colors='white', direction='in', labelsize=7.5)
ax2.tick_params(axis='y', which='major', length=5, pad=5)
ax2.tick_params(axis='y', which='minor', length=3)
ax2.spines['right'].set_color('white')
ax2.spines['top'].set_visible(False)
ax2.spines['left'].set_visible(False)
ax2.spines['bottom'].set_visible(False)
ax2.set_ylabel('Neerslag (mm)', color='white', fontsize=7.5)
ax2.yaxis.set_label_coords(1.040, 0.5)

# legend: P1 P2 / P3 P4 ... in two columns
handles = [Line2D([], [], color=c, lw=1.8) for c in member_colors]
h_ctrl = Line2D([], [], color=control_color, lw=1.8)
h_mean = Line2D([], [], color=mean_color, lw=1.8)
h_oper = Line2D([], [], color=oper_color, lw=1.8)
col1 = handles[0::2] + [h_ctrl, h_oper]
col2 = handles[1::2] + [h_mean]
lab1 = member_names[0::2] + ['Control', 'Oper']
lab2 = member_names[1::2] + ['Ens. mean']
leg = fig.legend(col1 + col2, lab1 + lab2, ncol=2, loc='upper left',
                 bbox_to_anchor=(0.0, 0.944), frameon=False, fontsize=7.5,
                 handlelength=0.9, handletextpad=0.1, columnspacing=0.6,
                 labelspacing=0.485, borderpad=0, borderaxespad=0)
for t in leg.get_texts():
    t.set_color('white')

fig.text(0.512, 0.981, 'Twenthe KNMI  (NL)  2m Temp. & Neerslag | Sat, 10Jan2026 00Z',
         color='white', fontsize=11.5, fontweight='bold', ha='center', va='center')
fig.text(120 / 850, 1 - 599 / 620, 'GFS Ensemble, 52.5N, 7E', color='white',
         fontsize=11.5, ha='left', va='center')
fig.text(793 / 850, 1 - 599 / 620, 'Wetterzentrale.de', color='white',
         fontsize=11.5, ha='right', va='center')

fig.savefig('out.png', dpi=100, facecolor='black')
